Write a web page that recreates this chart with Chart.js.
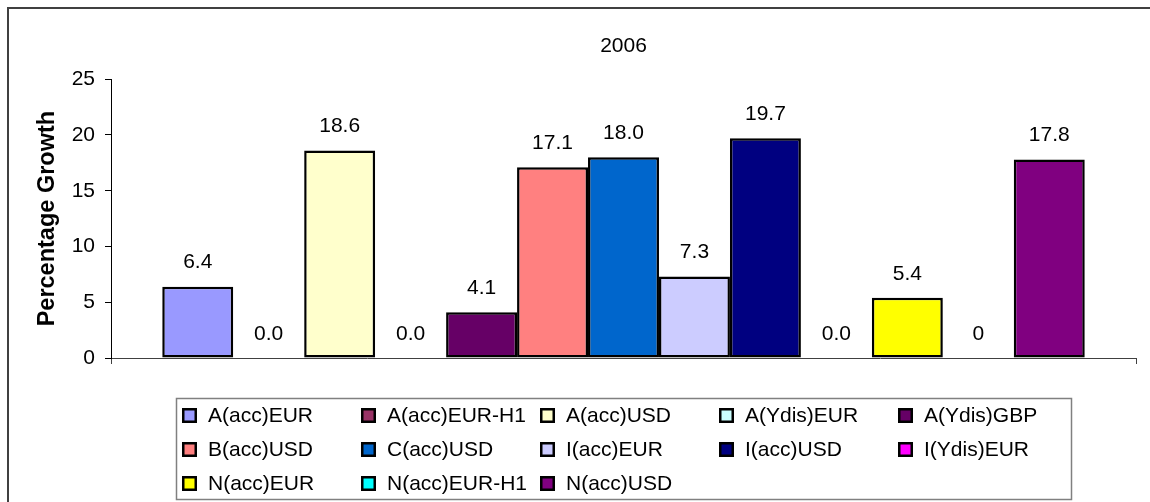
<!DOCTYPE html>
<html>
<head>
<meta charset="utf-8">
<style>
  html, body { margin: 0; padding: 0; background: #ffffff; }
  #wrap { position: relative; width: 1150px; height: 502px; }
  canvas { display: block; }
</style>
<script src="https://cdn.jsdelivr.net/npm/chart.js@4.4.1/dist/chart.umd.min.js"></script>
</head>
<body>
<div id="wrap"><canvas id="chart" width="1150" height="502"></canvas></div>
<script>
// ---- data ----
const categories = ['2006'];
const seriesNames = [
  'A(acc)EUR', 'A(acc)EUR-H1', 'A(acc)USD', 'A(Ydis)EUR', 'A(Ydis)GBP',
  'B(acc)USD', 'C(acc)USD', 'I(acc)EUR', 'I(acc)USD', 'I(Ydis)EUR',
  'N(acc)EUR', 'N(acc)EUR-H1', 'N(acc)USD'
];
const seriesValues = [6.4, 0.0, 18.6, 0.0, 4.1, 17.1, 18.0, 7.3, 19.7, 0.0, 5.4, 0, 17.8];
const valueLabels = ['6.4', '0.0', '18.6', '0.0', '4.1', '17.1', '18.0', '7.3', '19.7', '0.0', '5.4', '0', '17.8'];
const seriesColors = [
  '#9999FF', '#993366', '#FFFFCC', '#CCFFFF', '#660066',
  '#FF8080', '#0066CC', '#CCCCFF', '#000080', '#FF00FF',
  '#FFFF00', '#00FFFF', '#800080'
];
const yTicks = { min: 0, max: 25, step: 5 };
const chartTitle = '2006';
const yAxisTitle = 'Percentage Growth';

const FONT = '"Liberation Sans", Arial, sans-serif';

const datasets = seriesNames.map((name, i) => ({
  label: name,
  data: [seriesValues[i]],
  backgroundColor: seriesColors[i],
  borderColor: '#000000',
  borderWidth: 2.5,
  borderSkipped: false,
  categoryPercentage: 0.9,
  barPercentage: 1.0
}));

const framePlugin = {
  id: 'frame',
  beforeDraw(chart) {
    const ctx = chart.ctx;
    ctx.save();
    ctx.fillStyle = '#ffffff';
    ctx.fillRect(0, 0, chart.width, chart.height);
    ctx.strokeStyle = '#404040';
    ctx.lineWidth = 2;
    ctx.strokeRect(8, 8, 1300, 700);
    ctx.restore();
  }
};

const valueLabelPlugin = {
  id: 'valueLabels',
  afterDatasetsDraw(chart) {
    const ctx = chart.ctx;
    ctx.save();
    ctx.font = '21px ' + FONT;
    ctx.fillStyle = '#000000';
    ctx.textAlign = 'center';
    ctx.textBaseline = 'middle';
    chart.data.datasets.forEach((ds, i) => {
      const meta = chart.getDatasetMeta(i);
      meta.data.forEach((bar) => {
        ctx.fillText(valueLabels[i], bar.x, bar.y - 24);
      });
    });
    ctx.restore();
  }
};

const gridLegendPlugin = {
  id: 'gridLegend',
  afterDraw(chart) {
    const ctx = chart.ctx;
    ctx.save();
    // legend box
    ctx.strokeStyle = '#808080';
    ctx.lineWidth = 1.5;
    ctx.strokeRect(176.5, 398.5, 895, 101);
    const cols = 5;
    const x0 = 182, dx = 179;
    const y0 = 415, dy = 34;
    ctx.font = '21px ' + FONT;
    ctx.textAlign = 'left';
    ctx.textBaseline = 'middle';
    chart.data.datasets.forEach((ds, i) => {
      const c = i % cols, r = Math.floor(i / cols);
      const sx = x0 + c * dx, sy = y0 + r * dy;
      ctx.fillStyle = '#000000';
      ctx.fillRect(sx, sy - 7, 15, 15);
      ctx.fillStyle = ds.backgroundColor;
      ctx.fillRect(sx + 2.5, sy - 4.5, 10, 10);
      ctx.fillStyle = '#000000';
      ctx.fillText(ds.label, sx + 26, sy + 1);
    });
    ctx.restore();
  }
};

new Chart(document.getElementById('chart'), {
  type: 'bar',
  data: { labels: categories, datasets },
  plugins: [framePlugin, valueLabelPlugin, gridLegendPlugin],
  options: {
    responsive: false,
    animation: false,
    devicePixelRatio: 1,
    layout: { padding: { left: 0, right: 14, top: 0, bottom: 0 } },
    plugins: {
      legend: { display: false },
      tooltip: { enabled: false },
      title: {
        display: true,
        text: chartTitle,
        fullSize: false,
        color: '#000000',
        font: { family: FONT, size: 21, weight: 'normal', lineHeight: 1.2 },
        padding: { top: 34, bottom: 20 }
      }
    },
    scales: {
      x: {
        offset: true,
        grid: {
          offset: true,
          drawOnChartArea: false,
          drawTicks: true,
          tickLength: 6,
          color: '#404040',
          lineWidth: 1
        },
        border: { display: true, color: '#404040', width: 1 },
        ticks: { display: false },
        afterFit(scale) { scale.height = 144; }
      },
      y: {
        min: yTicks.min,
        max: yTicks.max,
        ticks: {
          stepSize: yTicks.step,
          color: '#000000',
          padding: 10,
          font: { family: FONT, size: 21 }
        },
        grid: {
          drawOnChartArea: false,
          drawTicks: true,
          tickLength: 6,
          color: '#000000',
          lineWidth: 1
        },
        border: { display: true, color: '#000000', width: 1 },
        title: {
          display: true,
          text: yAxisTitle,
          color: '#000000',
          font: { family: FONT, size: 23.5, weight: 'bold', lineHeight: 1.2 },
          padding: { top: 33, bottom: 0 }
        },
        afterFit(scale) { scale.width = 111; }
      }
    }
  }
});
</script>
</body>
</html>
